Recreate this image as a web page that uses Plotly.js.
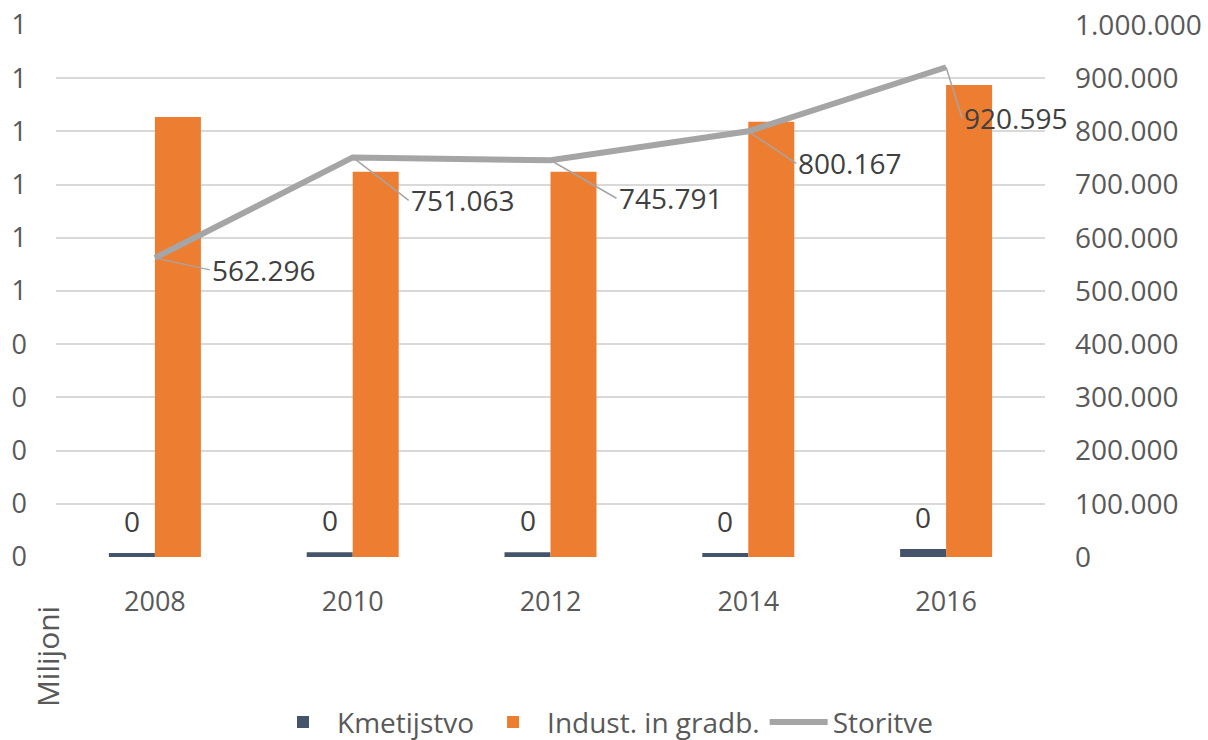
<!DOCTYPE html>
<html>
<head>
<meta charset="utf-8">
<script src="https://cdn.plot.ly/plotly-3.0.1.min.js"></script>
<style>
  html, body { margin: 0; padding: 0; background: #fff; }
  #chart { width: 1208px; height: 740px; }
</style>
</head>
<body>
<div id="chart"></div>
<script>
const years = ['2008', '2010', '2012', '2014', '2016'];
// millions (left axis)
const kmetijstvo = [0.0075, 0.009, 0.009, 0.0075, 0.015];
const industrija = [0.827, 0.724, 0.724, 0.818, 0.887];
// right axis
const storitve = [562296, 751063, 745791, 800167, 920595];

// pixel offsets of the line's data labels (leader lines)
const labelAx = [55, 56, 66, 48, 16];
const labelAy = [12, 43, 38, 32, 51];

const font = 'Open Sans, sans-serif';
const fmt = v => v.toLocaleString('de-DE');

const data = [
  {
    x: years, y: kmetijstvo, type: 'bar', name: 'Kmetijstvo',
    marker: { color: '#44546A' }
  },
  {
    x: years, y: industrija, type: 'bar', name: 'Indust. in gradb.',
    marker: { color: '#ED7D31' }
  },
  {
    x: years, y: storitve, type: 'scatter', mode: 'lines', name: 'Storitve',
    yaxis: 'y2', line: { color: '#A5A5A5', width: 6 }
  }
];

const annotations = [];
years.forEach((yr, i) => {
  annotations.push({
    x: i, y: kmetijstvo[i], xref: 'x', yref: 'y',
    text: kmetijstvo[i].toFixed(0), showarrow: false,
    xshift: -23, yanchor: 'bottom', yshift: 11,
    font: { family: font, size: 28, color: '#404040' }
  });
  annotations.push({
    x: i, y: storitve[i], xref: 'x', yref: 'y2',
    text: fmt(storitve[i]), showarrow: true, arrowhead: 0,
    arrowwidth: 1.5, arrowcolor: '#A5A5A5',
    ax: labelAx[i], ay: labelAy[i], xanchor: 'left', yanchor: 'middle',
    font: { family: font, size: 28, color: '#404040' }
  });
});
annotations.push({
  x: -0.009, y: -0.188, xref: 'paper', yref: 'paper',
  xanchor: 'center', yanchor: 'middle',
  text: 'Milijoni', textangle: -90, showarrow: false,
  font: { family: font, size: 30, color: '#595959' }
});

const layout = {
  width: 1208, height: 740,
  margin: { l: 56, r: 163, t: 25, b: 183 },
  paper_bgcolor: '#fff', plot_bgcolor: '#fff',
  separators: ',.',
  font: { family: font, size: 27, color: '#595959' },
  bargap: 0.535, bargroupgap: 0,
  showlegend: true,
  legend: {
    orientation: 'h', xref: 'container', yref: 'container',
    x: 0.5, xanchor: 'center', y: 0.024, yanchor: 'middle',
    font: { family: font, size: 28, color: '#595959' },
    itemwidth: 58, tracegroupgap: 0
  },
  xaxis: {
    type: 'category', range: [-0.5, 4.5], autorange: false,
    showgrid: false, zeroline: false,
    showline: false, ticks: '', ticklabelstandoff: 26
  },
  yaxis: {
    range: [0, 1], autorange: false, dtick: 0.1, tickformat: '.0f',
    showgrid: true, gridcolor: '#D9D9D9', gridwidth: 1.5,
    zeroline: false, showline: false, ticks: '', ticklabelstandoff: 28
  },
  yaxis2: {
    overlaying: 'y', side: 'right',
    range: [0, 1000000], autorange: false, dtick: 100000, tickformat: ',d',
    showgrid: false, zeroline: false, showline: false, ticks: '',
    ticklabelstandoff: 29, tickfont: { size: 28 }
  },
  annotations: annotations
};

Plotly.newPlot('chart', data, layout, { displayModeBar: false });
</script>
</body>
</html>
